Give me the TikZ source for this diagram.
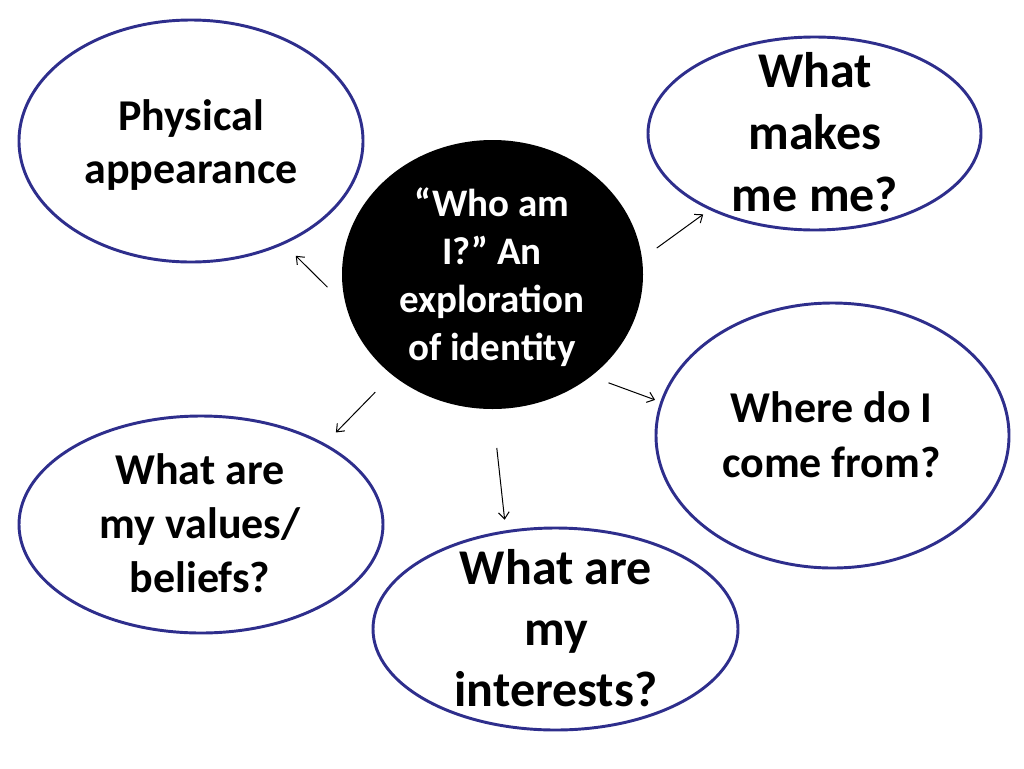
\documentclass[tikz,border=0pt]{standalone}
\usepackage{fontspec}
\setmainfont{Carlito}
\usetikzlibrary{shapes.geometric,arrows.meta}
\definecolor{navyline}{RGB}{46,46,140}

\begin{document}
\begin{tikzpicture}[x=0.75pt, y=-0.75pt,
      bubble/.style={ellipse, draw=navyline, line width=2.2pt, fill=white, inner sep=0pt, outer sep=0pt},
      qtext/.style={align=center, inner sep=0pt, outer sep=0pt}, pfeil/.style={-{Straight Barb[length=5pt,width=8pt]}, line width=0.75pt}]

\useasboundingbox (0,0) rectangle (1024,768);

\node[ellipse, fill=black, inner sep=0pt, outer sep=0pt, minimum width=225.75pt, minimum height=201.75pt] (c0) at (492.5,274.5) {};
\node[bubble, minimum width=258pt, minimum height=181.5pt] (q1) at (191,141) {};
\node[bubble, minimum width=249.75pt, minimum height=144.75pt] (q2) at (814.5,133.5) {};
\node[bubble, minimum width=264.75pt, minimum height=198.75pt] (q3) at (832.5,435.5) {};
\node[bubble, minimum width=273pt, minimum height=162.75pt] (q4) at (201,524.5) {};
\node[bubble, minimum width=273.75pt, minimum height=151.5pt] (q5) at (555.5,629) {};

\node[qtext, text=white, font={\fontsize{29.25}{36}\selectfont\bfseries}] (t0) at (492,277.5) {“Who am\\I?” An\\exploration\\of identity};
\node[qtext, font={\fontsize{33}{39.75}\selectfont\bfseries}] (t1) at (191,145.5) {Physical\\appearance};
\node[qtext, font={\fontsize{37.5}{46.5}\selectfont\bfseries}] (t2) at (815,132) {What\\makes\\me me?};
\node[qtext, font={\fontsize{33}{41.25}\selectfont\bfseries}] (t3) at (831.5,435) {Where do I\\come from?};
\node[qtext, font={\fontsize{33}{40.5}\selectfont\bfseries}] (t4) at (200,523.5) {What are\\my values/\\beliefs?};
\node[qtext, font={\fontsize{37.5}{45.75}\selectfont\bfseries}] (t5) at (556,628.5) {What are\\my\\interests?};

\draw (c0.192) edge[pfeil, shorten <=19.7pt, shorten >=13.4pt] (q1.-48.4);
\draw (c0.6.6) edge[pfeil, shorten <=13.7pt, shorten >=6.9pt] (q2.216.9);
\draw (c0.-46.2) edge[pfeil, shorten <=14.1pt, shorten >=5.25pt] (q3.169);
\draw (c0.225) edge[pfeil, shorten <=18.2pt, shorten >=12.7pt] (q4.33.4);
\draw (c0.-90.8) edge[pfeil, shorten <=29.4pt, shorten >=9.1pt] (q5.117.8);

\end{tikzpicture}
\end{document}
